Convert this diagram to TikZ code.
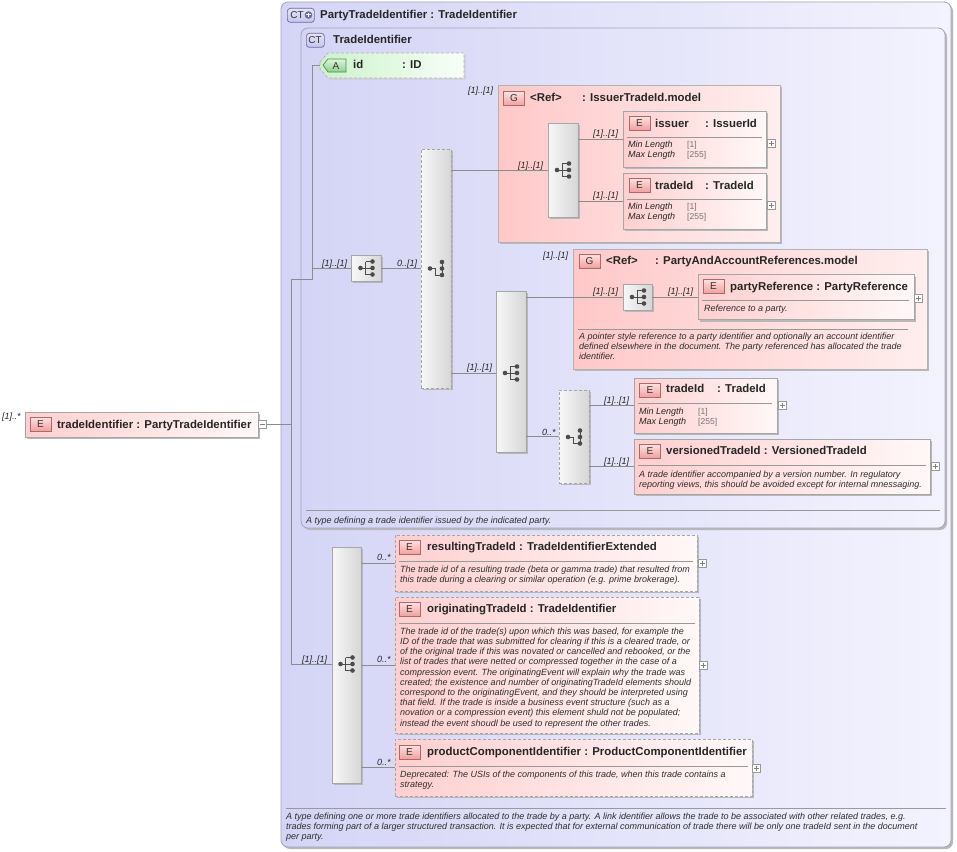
\documentclass[tikz,border=0pt]{standalone}
\usepackage{fontspec}
\setmainfont{Liberation Sans}
\usetikzlibrary{shadows}
\definecolor{lavL}{HTML}{D4D4F6}
\definecolor{lavR}{HTML}{F3F3FE}
\definecolor{ctdraw}{HTML}{A4A4BC}
\definecolor{pinkL}{HTML}{FFCFCF}
\definecolor{pinkR}{HTML}{FFF8F8}
\definecolor{grpL}{HTML}{FFC8C8}
\definecolor{grpR}{HTML}{FFEEEE}
\definecolor{grnL}{HTML}{CCF2CC}
\definecolor{grnR}{HTML}{F8FFF8}
\definecolor{lin}{HTML}{8C8C8C}
\definecolor{txt}{HTML}{2E2E2E}
\definecolor{bdgT}{HTML}{FFE2E2}
\definecolor{bdgB}{HTML}{F0A0A0}
\definecolor{bdgD}{HTML}{B06868}
\definecolor{ctbT}{HTML}{E4E4F8}
\definecolor{ctbB}{HTML}{C4C4EC}
\definecolor{ctbD}{HTML}{6C6CA0}
\definecolor{abT}{HTML}{DDF5DD}
\definecolor{abB}{HTML}{8FCF8F}
\definecolor{abD}{HTML}{4E8E4E}
\newcommand\tfont{\fontsize{11.4}{13}\selectfont\bfseries}
\newcommand\dfont{\fontsize{9}{10.2}\selectfont\itshape}
\newcommand\lfont{\fontsize{9}{10}\selectfont\itshape}
\newcommand\vfont{\fontsize{8.5}{10}\selectfont}
\begin{document}
\begin{tikzpicture}[x=1pt,y=-1pt,
  bx/.style={rectangle, inner sep=0pt, outer sep=0pt, anchor=north west},
  shad/.style={drop shadow={shadow xshift=2pt, shadow yshift=-2pt, fill=black!28, opacity=1}},
  ctbox/.style={bx, draw=ctdraw, line width=0.8pt, rounded corners=7pt, left color=lavL, right color=lavR, shad},
  elem/.style={bx, draw=black!35, line width=0.7pt, left color=pinkL, right color=pinkR, shad},
  elemd/.style={elem, dash pattern=on 3pt off 2pt},
  grp/.style={bx, draw=black!30, line width=0.7pt, left color=grpL, right color=grpR, shad},
  seqbox/.style={bx, draw=black!35, line width=0.7pt, left color=black!3, right color=black!16, shad},
  choicebox/.style={seqbox, dash pattern=on 3pt off 2pt},
  ebadge/.style={rectangle, inner sep=0pt, minimum width=21pt, minimum height=14pt, draw=bdgD, line width=0.7pt, top color=bdgT, bottom color=bdgB, font=\fontsize{10}{10}\selectfont, text=black!80},
  ctbadge/.style={rectangle, rounded corners=3pt, inner sep=0pt, minimum height=14pt, draw=ctbD, line width=0.7pt, top color=ctbT, bottom color=ctbB},
  btxt/.style={inner sep=0pt, font=\fontsize{10}{10}\selectfont, text=black!80},
  ttl/.style={inner sep=0pt, anchor=base west, font=\tfont, text=black!85},
  lbl/.style={inner sep=0pt, anchor=base west, font=\lfont, text=black!85},
  dsc/.style={inner sep=0pt, anchor=north west, font=\dfont, text=txt, align=left},
  val/.style={inner sep=0pt, anchor=base west, font=\vfont, text=black!55},
  sepl/.style={draw=black!40, line width=0.6pt},
  conn/.style={draw=lin, line width=0.8pt},
  plusbox/.style={rectangle, draw=black!40, fill=white, minimum size=8pt, inner sep=0pt, line width=0.5pt,
    path picture={\draw[black!50, line width=0.5pt] ([xshift=-2.5pt]path picture bounding box.center) -- ([xshift=2.5pt]path picture bounding box.center) ([yshift=-2.5pt]path picture bounding box.center) -- ([yshift=2.5pt]path picture bounding box.center);}},
  minusbox/.style={rectangle, draw=black!40, fill=white, minimum size=8pt, inner sep=0pt, line width=0.5pt,
    path picture={\draw[black!50, line width=0.5pt] ([xshift=-2.5pt]path picture bounding box.center) -- ([xshift=2.5pt]path picture bounding box.center);}},
  seqicon/.pic={\draw[black!70, line width=1pt] (-6,0) -- (-1,0) (-1,-6.5) -- (-1,6.5) (-1,-6.5) -- (6,-6.5) (-1,0) -- (6,0) (-1,6.5) -- (6,6.5);
    \fill[black!70] (-6,0) circle (2.3) (6,-6.5) circle (2.3) (6,0) circle (2.3) (6,6.5) circle (2.3);},
  choiceicon/.pic={\draw[black!70, line width=1pt] (-6,0) -- (-1,0) -- (-1,6.5) -- (6,6.5) (6,-6.5) -- (6,6.5);
    \fill[black!70] (-6,0) circle (2.3) (6,-6.5) circle (2.3) (6,0) circle (2.3) (6,6.5) circle (2.3);}
]
\useasboundingbox (0,0) rectangle (957,851);
\fill[white] (0,0) rectangle (957,851);

% ---------- outer complex type ----------
\node[ctbox, minimum width=670pt, minimum height=845pt] (ptid) at (281,2) {};
\node[ctbadge, minimum width=27pt, anchor=north west] (ptidbadge) at (287,8) {};
\node[btxt] (ptidbadgetxt) at (297,15) {CT};
\fill[ctbD] (308.5,15) circle (3.8);
\draw[white, line width=1pt] (306.3,15) -- (310.7,15) (308.5,12.8) -- (308.5,17.2);
\node[ttl] (ptidtitle) at (320,18.5) {PartyTradeIdentifier : TradeIdentifier};
\draw[sepl] (286,808) -- (946,808);
\node[dsc] (ptiddesc) at (286,812.4) {A type defining one or more trade identifiers allocated to the trade by a party. A link identifier allows the trade to be associated with other related trades, e.g.\\trades forming part of a larger structured transaction. It is expected that for external communication of trade there will be only one tradeId sent in the document\\per party.};

% ---------- inner complex type ----------
\node[ctbox, minimum width=644pt, minimum height=500pt] (tid) at (301,28) {};
\node[ctbadge, minimum width=18pt, anchor=north west] (tidbadge) at (306,33) {};
\node[btxt] (tidbadgetxt) at (315,40) {CT};
\node[ttl] (tidtitle) at (333,43.5) {TradeIdentifier};
\draw[sepl] (306,510) -- (940,510);
\node[dsc] (tiddesc) at (306,516.5) {A type defining a trade identifier issued by the indicated party.};

% ---------- attribute id ----------
\path[left color=grnL, right color=grnR, draw=black!30, line width=0.7pt, dash pattern=on 3pt off 2pt,
  drop shadow={shadow xshift=2pt, shadow yshift=-2pt, fill=black!20}]
  (320,62) -- (328,53) -- (464,53) -- (464,78) -- (328,78) -- (320,69) -- cycle;
\coordinate (idtip) at (320,65.5);
\path[top color=abT, bottom color=abB, draw=abD, line width=0.7pt] (323,65) -- (328,59) -- (346,59) -- (346,72) -- (328,72) -- cycle;
\node[btxt] (idbadge) at (336,65.7) {A};
\node[ttl] (idname) at (353,68.5) {id};
\node[ttl] (idtype) at (402,68.5) {: ID};

% ---------- main element ----------
\node[elem, minimum width=233pt, minimum height=25pt] (main) at (25,412) {};
\node[ebadge] (mainbadge) at (40.5,424) {E};
\node[ttl] (maintitle) at (57,428) {tradeIdentifier : PartyTradeIdentifier};
\node[lbl] (mainocc) at (2,419) {[1]..*};
\node[minusbox] (mainminus) at (262.5,424) {};

% ---------- sequence 1 and choice 1 ----------
\node[seqbox, minimum width=30pt, minimum height=26pt] (seq1) at (351,255) {};
\pic at (366.5,268) {seqicon};
\node[choicebox, minimum width=30pt, minimum height=239pt] (ch1) at (421,149) {};
\pic at (436,268.5) {choiceicon};

% ---------- group IssuerTradeId.model ----------
\node[grp, minimum width=282pt, minimum height=157pt] (grp1) at (498,85) {};
\node[lbl] (grp1occ) at (468,93.5) {[1]..[1]};
\node[ebadge] (grp1badge) at (514,98.5) {G};
\node[ttl] (grp1ref) at (530,101.5) {<Ref>};
\node[ttl] (grp1type) at (582,101.5) {: IssuerTradeId.model};
\node[seqbox, minimum width=30pt, minimum height=94pt] (seqA) at (548,123) {};
\pic at (563,170) {seqicon};

\node[elem, minimum width=143pt, minimum height=56pt] (issuer) at (623,111) {};
\node[ebadge] (issuerbadge) at (639.5,123) {E};
\node[ttl] (issuername) at (655,127) {issuer};
\node[ttl] (issuertype) at (705,127) {: IssuerId};
\draw[sepl] (627,137) -- (762,137);
\node[lbl] (issuermin) at (628,147.5) {Min Length};
\node[val] (issuerminv) at (687,147.5) {[1]};
\node[lbl] (issuermax) at (628,157.5) {Max Length};
\node[val] (issuermaxv) at (687,157.5) {[255]};
\node[plusbox] (issuerplus) at (771,143) {};

\node[elem, minimum width=143pt, minimum height=56pt] (tradeIdA) at (623,173) {};
\node[ebadge] (tradeIdAbadge) at (639.5,185) {E};
\node[ttl] (tradeIdAname) at (655,189) {tradeId};
\node[ttl] (tradeIdAtype) at (705,189) {: TradeId};
\draw[sepl] (627,199) -- (762,199);
\node[lbl] (tradeIdAmin) at (628,209.5) {Min Length};
\node[val] (tradeIdAminv) at (687,209.5) {[1]};
\node[lbl] (tradeIdAmax) at (628,219.5) {Max Length};
\node[val] (tradeIdAmaxv) at (687,219.5) {[255]};
\node[plusbox] (tradeIdAplus) at (771,205) {};

% ---------- sequence 2 ----------
\node[seqbox, minimum width=30pt, minimum height=161pt] (seq2) at (496,291) {};
\pic at (511,373) {seqicon};

% ---------- group PartyAndAccountReferences.model ----------
\node[grp, minimum width=354pt, minimum height=120pt] (grp2) at (573,249) {};
\node[lbl] (grp2occ) at (543,258) {[1]..[1]};
\node[ebadge] (grp2badge) at (589.5,261) {G};
\node[ttl] (grp2ref) at (606,264.5) {<Ref>};
\node[ttl] (grp2type) at (655,264.5) {: PartyAndAccountReferences.model};
\node[seqbox, minimum width=29pt, minimum height=26pt] (seqC) at (623,284) {};
\pic at (638,297) {seqicon};
\node[elem, minimum width=216pt, minimum height=45pt] (partyRef) at (698,274.5) {};
\node[ebadge] (partyRefbadge) at (713.5,286) {E};
\node[ttl] (partyReftitle) at (730,290) {partyReference : PartyReference};
\draw[sepl] (702,300) -- (909,300);
\node[dsc] (partyRefdesc) at (704,304.8) {Reference to a party.};
\node[plusbox] (partyRefplus) at (918,298) {};
\draw[sepl] (578,329) -- (908,329);
\node[dsc] (grp2desc) at (579,332.6) {A pointer style reference to a party identifier and optionally an account identifier\\defined elsewhere in the document. The party referenced has allocated the trade\\identifier.};

% ---------- choice 2 ----------
\node[choicebox, minimum width=30pt, minimum height=93pt] (ch2) at (559,390) {};
\pic at (574,437) {choiceicon};
\node[elem, minimum width=143pt, minimum height=55pt] (tradeIdB) at (634,378) {};
\node[ebadge] (tradeIdBbadge) at (650,390) {E};
\node[ttl] (tradeIdBname) at (666,392.5) {tradeId};
\node[ttl] (tradeIdBtype) at (717,392.5) {: TradeId};
\draw[sepl] (638,403) -- (772,403);
\node[lbl] (tradeIdBmin) at (639,414) {Min Length};
\node[val] (tradeIdBminv) at (698,414) {[1]};
\node[lbl] (tradeIdBmax) at (639,424) {Max Length};
\node[val] (tradeIdBmaxv) at (698,424) {[255]};
\node[plusbox] (tradeIdBplus) at (782,405) {};

\node[elem, minimum width=296pt, minimum height=55pt] (versioned) at (634,439) {};
\node[ebadge] (versionedbadge) at (650,451) {E};
\node[ttl] (versionedtitle) at (666,454.5) {versionedTradeId : VersionedTradeId};
\draw[sepl] (638,465) -- (926,465);
\node[dsc] (versioneddesc) at (639,470.6) {A trade identifier accompanied by a version number. In regulatory\\reporting views, this should be avoided except for internal mnessaging.};
\node[plusbox] (versionedplus) at (935,466) {};

% ---------- sequence 3 ----------
\node[seqbox, minimum width=29pt, minimum height=236pt] (seq3) at (332,547) {};
\pic at (346.5,664) {seqicon};

\node[elemd, minimum width=302pt, minimum height=56pt] (resulting) at (395,535) {};
\node[ebadge] (resultingbadge) at (409.5,547) {E};
\node[ttl] (resultingtitle) at (427,550.5) {resultingTradeId : TradeIdentifierExtended};
\draw[sepl] (399,561) -- (693,561);
\node[dsc] (resultingdesc) at (400,565.6) {The trade id of a resulting trade (beta or gamma trade) that resulted from\\this trade during a clearing or similar operation (e.g. prime brokerage).};
\node[plusbox] (resultingplus) at (702,563) {};

\node[elemd, minimum width=304pt, minimum height=136pt] (originating) at (395,597) {};
\node[ebadge] (originatingbadge) at (409.5,609) {E};
\node[ttl] (originatingtitle) at (427,612.5) {originatingTradeId : TradeIdentifier};
\draw[sepl] (399,623) -- (695,623);
\node[dsc] (originatingdesc) at (400,627.6) {The trade id of the trade(s) upon which this was based, for example the\\ID of the trade that was submitted for clearing if this is a cleared trade, or\\of the original trade if this was novated or cancelled and rebooked, or the\\list of trades that were netted or compressed together in the case of a\\compression event. The originatingEvent will explain why the trade was\\created; the existence and number of originatingTradeId elements should\\correspond to the originatingEvent, and they should be interpreted using\\that field. If the trade is inside a business event structure (such as a\\novation or a compression event) this element shuld not be populated;\\instead the event shoudl be used to represent the other trades.};
\node[plusbox] (originatingplus) at (703,665) {};

\node[elemd, minimum width=357pt, minimum height=57pt] (product) at (395,739) {};
\node[ebadge] (productbadge) at (409.5,752) {E};
\node[ttl] (producttitle) at (427,755.5) {productComponentIdentifier : ProductComponentIdentifier};
\draw[sepl] (399,766) -- (748,766);
\node[dsc] (productdesc) at (400,770.6) {Deprecated: The USIs of the components of this trade, when this trade contains a\\strategy.};
\node[plusbox] (productplus) at (756,768) {};

% ---------- connectors ----------
\coordinate (spTop) at (291,279);
\coordinate (spBot) at (291,664);
\coordinate (jn) at (312,279);
\draw[conn] (mainminus.east) -- (mainminus.east -| spTop);
\draw[conn] (spTop) -- (spBot);
\draw[conn] (spTop) -- (jn) -- (jn |- idtip) -- (idtip);
\draw[conn] (jn |- seq1.west) -- (seq1.west);
\node[lbl] (seq1occ) at (322,266) {[1]..[1]};
\draw[conn] (seq1.east) -- (seq1.east -| ch1.west);
\node[lbl] (ch1occ) at (397,266) {0..[1]};
\draw[conn] (ch1.east |- seqA.west) -- (seqA.west);
\node[lbl] (seqAocc) at (518,168) {[1]..[1]};
\draw[conn] (seqA.east |- issuer.west) -- (issuer.west);
\node[lbl] (issuerocc) at (593,136) {[1]..[1]};
\draw[conn] (seqA.east |- tradeIdA.west) -- (tradeIdA.west);
\node[lbl] (tradeIdAocc) at (593,198) {[1]..[1]};
\draw[conn] (ch1.east |- 0,373) -- (seq2.west |- 0,373);
\node[lbl] (seq2occ) at (467,370) {[1]..[1]};
\draw[conn] (seq2.east |- seqC.west) -- (seqC.west);
\node[lbl] (seqCocc) at (593,294) {[1]..[1]};
\draw[conn] (seqC.east) -- (seqC.east -| partyRef.west);
\node[lbl] (partyRefocc) at (668,294) {[1]..[1]};
\draw[conn] (seq2.east |- ch2.west) -- (ch2.west);
\node[lbl] (ch2occ) at (542,435) {0..*};
\draw[conn] (ch2.east |- tradeIdB.west) -- (tradeIdB.west);
\node[lbl] (tradeIdBocc) at (604,403) {[1]..[1]};
\draw[conn] (ch2.east |- versioned.west) -- (versioned.west);
\node[lbl] (versionedocc) at (604,464) {[1]..[1]};
\draw[conn] (spBot) -- (spBot -| seq3.west);
\node[lbl] (seq3occ) at (302,662) {[1]..[1]};
\draw[conn] (seq3.east |- resulting.west) -- (resulting.west);
\node[lbl] (resultingocc) at (377,560) {0..*};
\draw[conn] (seq3.east |- originating.west) -- (originating.west);
\node[lbl] (originatingocc) at (377,662) {0..*};
\draw[conn] (seq3.east |- product.west) -- (product.west);
\node[lbl] (productocc) at (377,765) {0..*};
\end{tikzpicture}
\end{document}
